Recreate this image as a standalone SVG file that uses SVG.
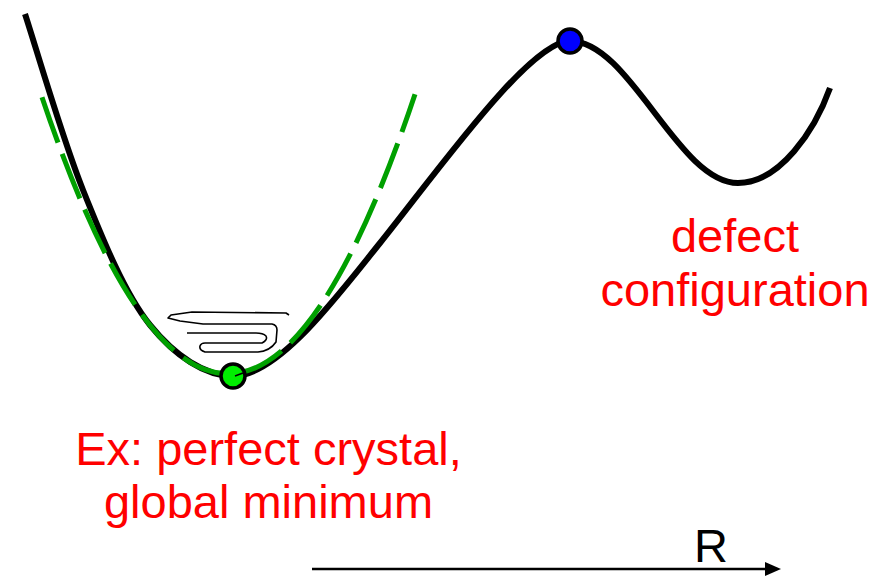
<svg xmlns="http://www.w3.org/2000/svg" width="890" height="577" viewBox="0 0 890 577">
<defs>
<style>
.lbl{font-family:"Liberation Sans",Arial,sans-serif;font-size:47px;fill:#ff0000;text-anchor:middle}
.ax{font-family:"Liberation Sans",Arial,sans-serif;font-size:47px;fill:#000}
.pes{fill:none;stroke:#000;stroke-width:6;stroke-linecap:butt;stroke-linejoin:round}
.harm{fill:none;stroke:#00a000;stroke-width:5;stroke-dasharray:48 12}
.scrib{fill:none;stroke:#000;stroke-width:1.6;stroke-linejoin:round}
.pt{stroke:#000;stroke-width:3.5}
</style>
</defs>
<rect width="890" height="577" fill="#fff"/>
<g id="energy-curve">
<path class="pes" d="M25,14 C34.7,43.3 62.2,138.2 83,190 C103.8,241.8 125,294 150,325 C175,356 205,376 233,376 C278,376 335,299 380,243 C440,168 530,41 570,41 C630,41 678,183 738,183 C780,183 815,130 830,88"/>
</g>
<g id="harmonic-approx">
<path class="harm" d="M42,97.2 Q228.5,652 415,94.2"/>
</g>
<g id="vibration-scribble">
<path class="scrib" d="M289,315 L286,313 L192,312 L171,315 L168,318 L180,321 L203,324 L272,324 Q277,325 277,330 L276,342 Q270,351 258,352 L205,352 Q199,350 200,346 Q201,343 205,343 L262,343 Q268,340 266,336 Q263,333 256,333 L187,333"/>
</g>
<g id="node-global-minimum">
<circle class="pt" cx="233" cy="376" r="12" fill="#00ee00"/>
<path class="scrib" d="M235,376 L243,373"/>
</g>
<g id="node-saddle">
<circle class="pt" cx="570" cy="41" r="12" fill="#0000ff"/>
</g>
<g id="label-minimum">
<text class="lbl" x="268.5" y="465">Ex: perfect crystal,</text>
<text class="lbl" x="268.5" y="518">global minimum</text>
</g>
<g id="label-defect">
<text class="lbl" x="735" y="252">defect</text>
<text class="lbl" x="735" y="306">configuration</text>
</g>
<g id="connectors">
<line x1="312" y1="569" x2="766" y2="569" stroke="#000" stroke-width="2.5"/>
<path d="M765,562 L781,569 L765,576 Z" fill="#000"/>
<text class="ax" x="694" y="562">R</text>
</g>
</svg>
